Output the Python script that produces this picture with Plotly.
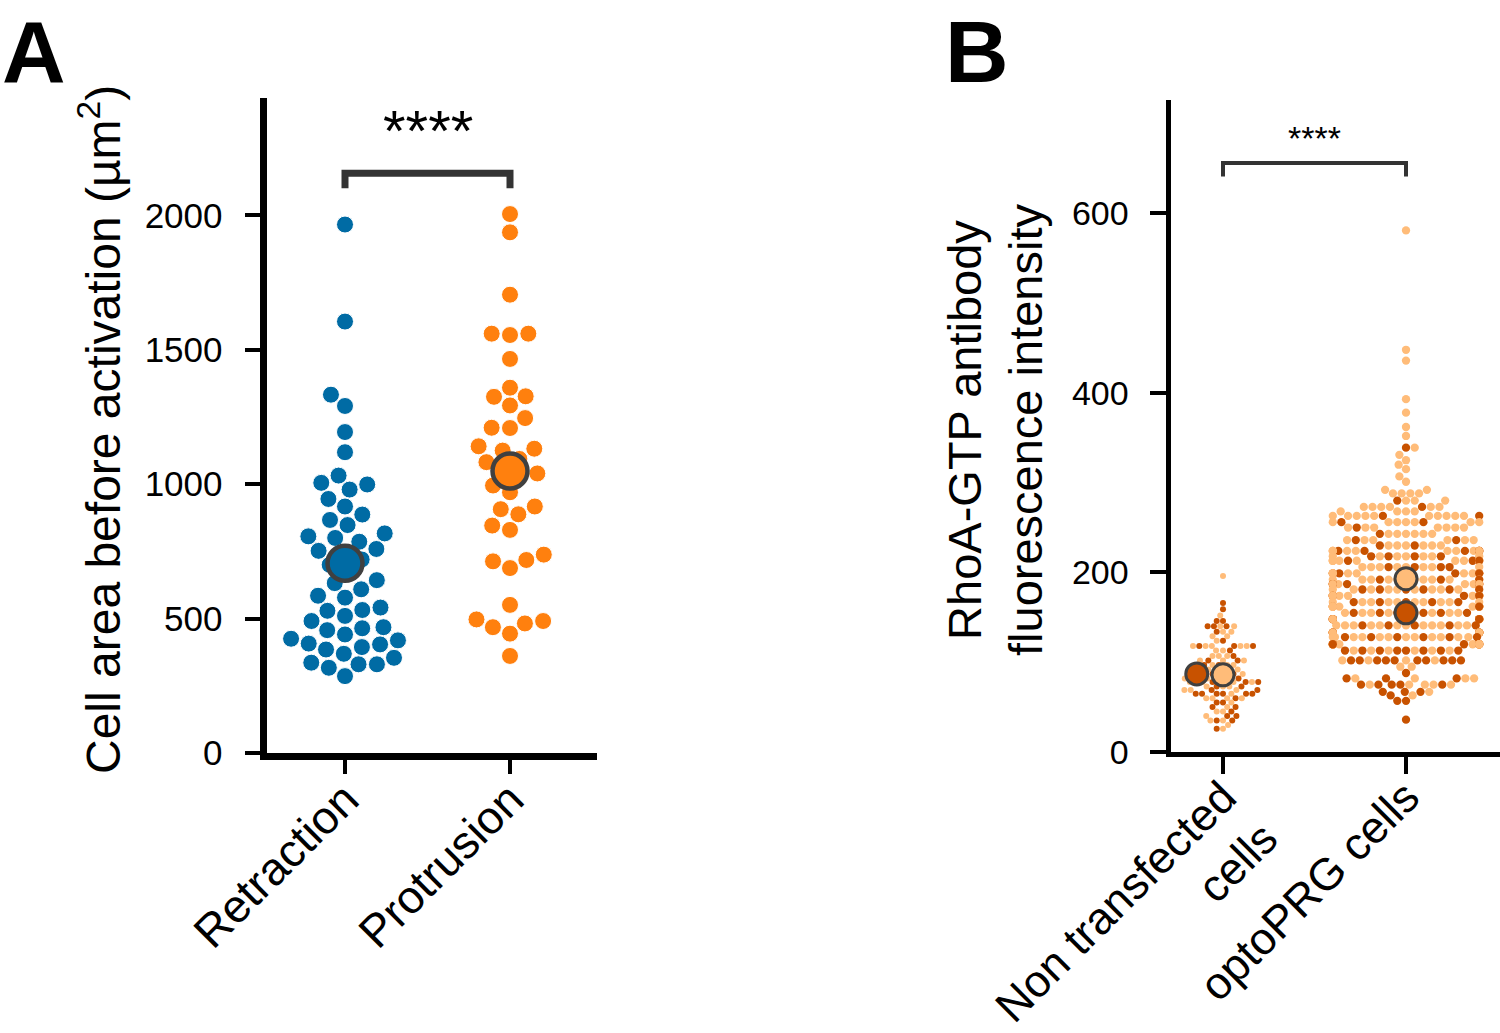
import numpy as np
import plotly.graph_objects as go

W, H = 1500, 1033
OFF = 0  # body margin removed via post_script below

# ---------------- Panel A data ----------------
cat_A = ["Retraction", "Protrusion"]
retraction = [1966, 1605, 1333, 1291, 1194, 1119, 1032, 1005, 999, 980, 945, 917, 887, 867,
              848, 817, 806, 800, 786, 759, 752, 745, 720, 700, 680, 643, 632, 609, 585, 578,
              541, 532, 529, 510, 491, 468, 464, 457, 441, 425, 419, 407, 404, 394, 385, 369,
              354, 336, 330, 330, 317, 286]
protrusion = [2005, 1937, 1705, 1560, 1560, 1555, 1466, 1359, 1327, 1325, 1293, 1246, 1210,
              1209, 1141, 1132, 1125, 1094, 1082, 1060, 1040, 1026, 995, 970, 917, 907, 888,
              846, 830, 738, 718, 713, 688, 551, 497, 491, 482, 468, 444, 361]
mean_A = [706, 1049]
yticks_A = [0, 500, 1000, 1500, 2000]

# ---------------- Panel B data ----------------
cat_B = ["Non transfected<br>cells", "optoPRG cells"]
nt_levels = [196, 166, 159, 152, 146, 140, 134, 129, 124, 118, 113, 107, 102, 97, 92, 87, 82,
             78, 73, 69, 65, 60, 55, 50, 45, 40, 35, 30, 26]
nt_light = [1, 0, 0, 1, 0, 2, 2, 2, 1, 5, 2, 3, 3, 3, 3, 4, 3, 4, 3, 3, 1, 4, 1, 1, 2, 1, 2, 1, 1]
nt_dark = [0, 1, 1, 0, 2, 3, 1, 0, 1, 3, 1, 1, 2, 2, 1, 2, 1, 4, 2, 2, 6, 1, 2, 2, 1, 2, 2, 0, 1]

op_levels = [581, 448, 436, 393, 378, 362, 352, 339, 331, 325, 320, 315, 307, 301, 292, 288,
             280, 273, 268, 263, 256, 250, 243, 236, 230, 224, 218, 213, 206, 199, 192, 187,
             181, 174, 167, 162, 155, 148, 141, 133, 128, 120, 113, 102, 95, 88, 82, 75, 67,
             63, 57, 36]
op_light = [1, 1, 1, 1, 1, 1, 1, 1, 1, 1, 1, 1, 1, 1, 2, 4, 3, 6, 4, 10, 7, 7, 6, 6, 6, 10, 7,
            10, 8, 9, 10, 8, 9, 11, 10, 11, 9, 11, 12, 12, 12, 12, 6, 4, 2, 0, 4, 5, 1, 1, 0, 0]
op_dark = [0, 0, 0, 0, 0, 0, 0, 1, 0, 0, 0, 0, 0, 0, 0, 0, 1, 1, 0, 2, 2, 1, 1, 2, 2, 5, 4, 3,
           4, 5, 4, 5, 6, 5, 5, 3, 6, 6, 5, 5, 6, 6, 8, 10, 0, 1, 3, 5, 3, 1, 2, 1]
mean_B_light = [86, 193]
mean_B_dark = [87, 155]
yticks_B = [0, 200, 400, 600]

# ---------------- styling ----------------
BLUE, ORANGE = "#006BA4", "#FF800E"
LIGHT, DARK = "#FFBC79", "#C85200"
EDGE = "#404040"
FONT = "Liberation Sans, Arial, sans-serif"


def px(x):
    return (x - OFF) / W


def py(y):
    return 1 - (y - OFF) / H


# axes geometry (window pixels)
LW_A, LW_B = 7, 4.5
A_x0, A_x1, A_top, A_bot = 263 + LW_A / 2, 597, 98, 753
B_x0, B_x1, B_top, B_bot = 1169 + LW_B / 2, 1500, 100, 752
A_c0, A_step = 345, 165
B_c0, B_step = 1223, 183
A_ppu = 0.2688
B_ppu = 0.8978
A_yr = [0, (A_bot - A_top) / A_ppu]
B_yr = [0, (B_bot - B_top) / B_ppu]


def beeswarm(vals, ppu, diam, half_width):
    """seaborn-like beeswarm; returns x offsets in pixels"""
    y = np.asarray(vals, float) * ppu
    order = np.argsort(y, kind="stable")
    r2 = diam ** 2
    placed = []
    xs = np.zeros(len(y))
    for idx in order:
        yi = y[idx]
        neigh = [(xj, yj) for (xj, yj) in placed if abs(yi - yj) < diam]
        cands = [0.0]
        left_first = True
        for xj, yj in neigh:
            dy = yi - yj
            dx = np.sqrt(max(r2 - dy * dy, 0)) * 1.05
            cands += [xj - dx, xj + dx] if left_first else [xj + dx, xj - dx]
            left_first = not left_first
        cands = sorted(cands, key=abs)
        chosen = cands[-1]
        for c in cands:
            if all((c - xj) ** 2 + (yi - yj) ** 2 >= r2 * 0.999 for xj, yj in neigh):
                chosen = c
                break
        placed.append((chosen, yi))
        xs[idx] = chosen
    return np.clip(xs, -half_width, half_width)


def expand(levels, n_light, n_dark):
    """values of one category with colours mixed across each row"""
    vals, cols = [], []
    for r, (v, nl, nd) in enumerate(zip(levels, n_light, n_dark)):
        n = nl + nd
        if n == 0:
            continue
        phase = (r * 0.37) % 1.0
        pattern = [LIGHT] * n
        used = set()
        for j in range(nd):
            s = int(np.floor((j + phase) * n / nd)) % n
            while s in used:
                s = (s + 1) % n
            used.add(s)
            pattern[s] = DARK
        c = n // 2
        for k in range(n):
            slot = c if k == 0 else (c - (k + 1) // 2 if k % 2 else c + k // 2)
            vals.append(v)
            cols.append(pattern[slot])
    return vals, cols


fig = go.Figure()

# ---- Panel A swarms ----
for i, (vals, col) in enumerate([(retraction, BLUE), (protrusion, ORANGE)]):
    off = beeswarm(vals, A_ppu, 17.5, 0.4 * A_step)
    fig.add_trace(go.Scatter(x=i + off / A_step, y=vals, mode="markers",
                             marker=dict(size=17, color=col, line=dict(width=1, color="white")),
                             xaxis="x", yaxis="y", hoverinfo="y"))
fig.add_trace(go.Scatter(x=[0, 1], y=mean_A, mode="markers",
                         marker=dict(size=35, color=[BLUE, ORANGE], line=dict(width=4.5, color=EDGE)),
                         xaxis="x", yaxis="y"))

# ---- Panel B swarms ----
for i, (lv, nl, nd, dsz) in enumerate([(nt_levels, nt_light, nt_dark, 6.0),
                                        (op_levels, op_light, op_dark, 8.3)]):
    vals, cols = expand(lv, nl, nd)
    off = beeswarm(vals, B_ppu, dsz, 0.4 * B_step)
    fig.add_trace(go.Scatter(x=i + off / B_step, y=vals, mode="markers",
                             marker=dict(size=dsz, color=cols, line=dict(width=0)),
                             xaxis="x2", yaxis="y2", hoverinfo="y"))
for i in range(2):
    mv = [mean_B_light[i], mean_B_dark[i]]
    off = beeswarm(mv, B_ppu, 25, 0.4 * B_step)
    fig.add_trace(go.Scatter(x=i + off / B_step, y=mv, mode="markers",
                             marker=dict(size=22, color=[LIGHT, DARK], line=dict(width=3, color=EDGE)),
                             xaxis="x2", yaxis="y2"))

# ---- significance brackets ----
sig_A = [2101, 2157]
sig_B = [641, 656]
fig.add_shape(type="path", xref="x", yref="y",
              path=f"M 0,{sig_A[0]} L 0,{sig_A[1]} L 1,{sig_A[1]} L 1,{sig_A[0]}",
              line=dict(color="#333333", width=7))
fig.add_shape(type="path", xref="x2", yref="y2",
              path=f"M 0,{sig_B[0]} L 0,{sig_B[1]} L 1,{sig_B[1]} L 1,{sig_B[0]}",
              line=dict(color="#333333", width=4))

ann = []
ann.append(dict(text="****", x=0.5, y=sig_A[1], xref="x", yref="y", showarrow=False,
                yanchor="bottom", yshift=8, font=dict(size=58, color="black", family=FONT)))
ann.append(dict(text="****", x=0.5, y=sig_B[1], xref="x2", yref="y2", showarrow=False,
                yanchor="bottom", yshift=4, font=dict(size=34, color="black", family=FONT)))
ann.append(dict(text="<b>A</b>", x=px(0), y=py(0), xref="paper", yref="paper", showarrow=False,
                xanchor="left", yanchor="top", font=dict(size=88, color="black", family=FONT)))
ann.append(dict(text="<b>B</b>", x=px(943), y=py(0), xref="paper", yref="paper", showarrow=False,
                xanchor="left", yanchor="top", font=dict(size=88, color="black", family=FONT)))
ann.append(dict(text="Cell area before activation (µm<sup>2</sup>)", x=px(100), y=py(430),
                xref="paper", yref="paper", showarrow=False, textangle=-90,
                xanchor="center", yanchor="middle", font=dict(size=48, color="black", family=FONT)))
ann.append(dict(text="RhoA-GTP antibody<br>fluorescence intensity", x=px(995), y=py(430),
                xref="paper", yref="paper", showarrow=False, textangle=-90,
                xanchor="center", yanchor="middle", font=dict(size=47, color="black", family=FONT)))

axis_common = dict(showgrid=False, zeroline=False, showline=True, linecolor="black",
                   ticks="outside", tickcolor="black", color="black", automargin=False)

fig.update_layout(
    template="none",
    width=W, height=H, margin=dict(l=0, r=0, t=0, b=0, autoexpand=False),
    paper_bgcolor="white", plot_bgcolor="white", showlegend=False,
    font=dict(family=FONT, color="black"),
    annotations=ann,
    xaxis=dict(domain=[px(A_x0), px(A_x1)],
               range=[-(A_c0 - A_x0) / A_step, (A_x1 - A_c0) / A_step],
               tickvals=[0, 1], ticktext=cat_A, tickangle=-45,
               linewidth=LW_A, ticklen=14, tickwidth=4, ticklabelstandoff=-20,
               tickfont=dict(size=46, family=FONT), anchor="y", **axis_common),
    yaxis=dict(domain=[py(A_bot), py(A_top)], range=A_yr,
               tickvals=yticks_A, ticktext=[str(t) for t in yticks_A],
               linewidth=LW_A, ticklen=15, tickwidth=4, ticklabelstandoff=15,
               tickfont=dict(size=35, family=FONT), anchor="x", **axis_common),
    xaxis2=dict(domain=[px(B_x0), px(B_x1)],
                range=[-(B_c0 - B_x0) / B_step, (B_x1 - B_c0) / B_step],
                tickvals=[0, 1], ticktext=cat_B, tickangle=-45,
                linewidth=LW_B, ticklen=17, tickwidth=4, ticklabelstandoff=-21,
                tickfont=dict(size=45, family=FONT), anchor="y2", **axis_common),
    yaxis2=dict(domain=[py(B_bot), py(B_top)], range=B_yr,
                tickvals=yticks_B, ticktext=[str(t) for t in yticks_B],
                linewidth=LW_B, ticklen=17, tickwidth=4, ticklabelstandoff=14,
                tickfont=dict(size=34, family=FONT), anchor="x2", **axis_common),
)

fig.write_html("out.html", config={"displayModeBar": False},
               post_script="document.body.style.margin='0';document.body.style.overflow='hidden';")
